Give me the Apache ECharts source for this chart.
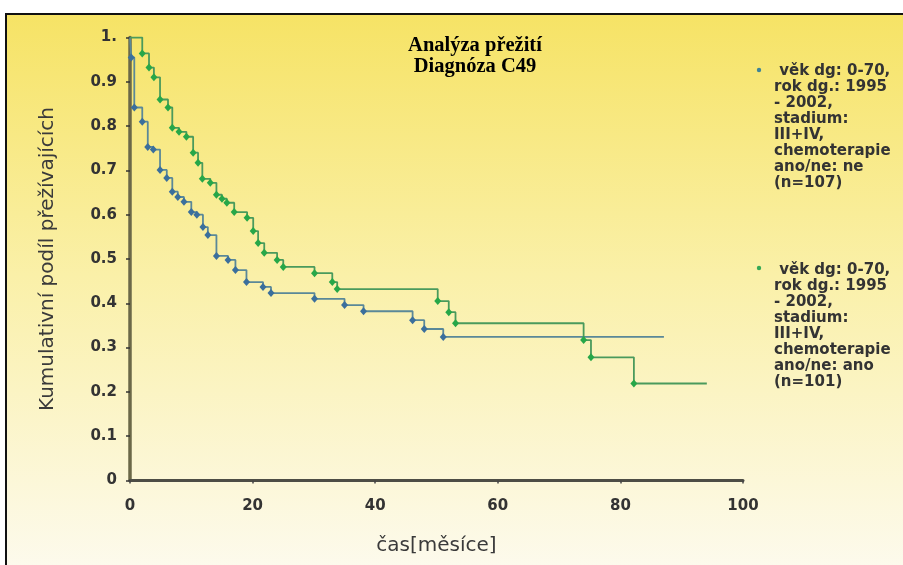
<!DOCTYPE html>
<html>
<head>
<meta charset="utf-8">
<script src="https://cdn.jsdelivr.net/npm/echarts@6/dist/echarts.min.js"></script>
<style>html,body{margin:0;padding:0;background:#fff}#c{width:903px;height:565px}</style>
</head>
<body>
<div id="c"></div>
<script>
// ---- data ----
const titleText = 'Analýza přežití\nDiagnóza C49';
const xAxisName = 'čas[měsíce]';
const yAxisName = 'Kumulativní podíl přežívajících';
const xTickLabels = ['0', '20', '40', '60', '80', '100'];
const yTickLabels = ['0', '0.1', '0.2', '0.3', '0.4', '0.5', '0.6', '0.7', '0.8', '0.9', '1.'];

const seriesNames = [
  'věk dg: 0-70,\nrok dg.: 1995\n- 2002,\nstadium:\nIII+IV,\nchemoterapie\nano/ne: ne\n(n=107)',
  'věk dg: 0-70,\nrok dg.: 1995\n- 2002,\nstadium:\nIII+IV,\nchemoterapie\nano/ne: ano\n(n=101)'
];

// blue: chemoterapie ne (n=107)
const blueT = [0, 0.2, 0.7, 2.0, 2.9, 3.8, 4.9, 6.0, 6.9, 7.8, 8.8, 10.0, 10.9, 11.9, 12.7, 14.1, 16.0, 17.2, 19.0, 21.7, 23.0, 30.1, 35.0, 38.1, 46.1, 48.0, 51.1, 87.1];
const blueS = [1.0, 0.955, 0.842, 0.81, 0.753, 0.747, 0.701, 0.683, 0.652, 0.640, 0.629, 0.606, 0.600, 0.572, 0.554, 0.507, 0.498, 0.475, 0.448, 0.437, 0.423, 0.410, 0.396, 0.382, 0.362, 0.342, 0.324, 0.324];

// green: chemoterapie ano (n=101)
const greenT = [0, 2.0, 3.1, 3.9, 4.9, 6.2, 6.9, 8.0, 9.2, 10.3, 11.1, 11.8, 13.1, 14.1, 15.0, 15.8, 17.0, 19.1, 20.1, 20.9, 21.9, 24.0, 25.0, 30.1, 33.0, 33.8, 50.2, 52.0, 53.1, 74.0, 75.2, 82.2, 94.1];
const greenS = [1.0, 0.964, 0.932, 0.910, 0.860, 0.842, 0.796, 0.787, 0.776, 0.740, 0.717, 0.681, 0.672, 0.645, 0.636, 0.627, 0.606, 0.593, 0.563, 0.536, 0.514, 0.498, 0.482, 0.468, 0.448, 0.432, 0.405, 0.380, 0.355, 0.317, 0.278, 0.219, 0.219];

// ---- build ----
function build(ts, ss) {
  return ts.map((t, i) => {
    const item = { value: [t, ss[i]] };
    if (i === 0 || i === ts.length - 1) item.symbol = 'none';
    return item;
  });
}

const chart = echarts.init(document.getElementById('c'), null, { renderer: 'canvas' });

const legendFont = { fontFamily: 'DejaVu Sans', fontWeight: 'bold', fontSize: 15, lineHeight: 16, fill: '#333' };

chart.setOption({
  animation: false,
  backgroundColor: '#ffffff',
  title: {
    text: titleText,
    left: 475,
    top: 35,
    padding: 0,
    textAlign: 'center',
    textStyle: {
      fontFamily: 'Liberation Serif',
      fontWeight: 'bold',
      fontSize: 20.5,
      lineHeight: 21,
      color: '#000'
    }
  },
  graphic: [
    {
      type: 'rect', z: -100, silent: true,
      shape: { x: 6, y: 14, width: 920, height: 580 },
      style: {
        fill: new echarts.graphic.LinearGradient(0, 0, 0, 1, [
          { offset: 0, color: '#F6E365' },
          { offset: 0.45, color: '#FAF0A8' },
          { offset: 1, color: '#FDFBF3' }
        ]),
        stroke: '#111', lineWidth: 2
      }
    },
    { type: 'circle', shape: { cx: 759, cy: 70, r: 2.2 }, style: { fill: '#3f8497' } },
    { type: 'text', x: 774, y: 63, style: Object.assign({ text: ' ' + seriesNames[0] }, legendFont) },
    { type: 'circle', shape: { cx: 759, cy: 268, r: 2.2 }, style: { fill: '#35a855' } },
    { type: 'text', x: 774, y: 262, style: Object.assign({ text: ' ' + seriesNames[1] }, legendFont) }
  ],
  grid: { left: 130, right: 160, top: 37.5, bottom: 84.5, containLabel: false },
  xAxis: {
    type: 'value', min: 0, max: 100, interval: 20,
    name: xAxisName, nameLocation: 'middle', nameGap: 55,
    nameTextStyle: { fontFamily: 'DejaVu Sans', fontSize: 20, color: '#3a3a3a' },
    axisLine: { show: true, lineStyle: { color: '#4d4d45', width: 3 } },
    axisTick: { show: true, length: 3, lineStyle: { color: '#444', width: 1.5 } },
    splitLine: { show: false },
    axisLabel: {
      margin: 18, fontFamily: 'DejaVu Sans', fontWeight: 'bold', fontSize: 15, color: '#333',
      formatter: (v) => xTickLabels[Math.round(v / 20)]
    }
  },
  yAxis: {
    type: 'value', min: 0, max: 1, interval: 0.1,
    name: yAxisName, nameLocation: 'middle', nameGap: 72, nameRotate: 90,
    nameTextStyle: { fontFamily: 'DejaVu Sans', fontSize: 20, color: '#3a3a3a' },
    axisLine: { show: true, lineStyle: { color: '#6b6848', width: 3.5 } },
    axisTick: { show: true, length: 4, lineStyle: { color: '#333', width: 1.5 } },
    splitLine: { show: false },
    axisLabel: {
      margin: 13, fontFamily: 'DejaVu Sans', fontWeight: 'bold', fontSize: 15, color: '#333',
      formatter: (v) => yTickLabels[Math.round(v * 10)]
    }
  },
  series: [
    {
      name: seriesNames[0], type: 'line', step: 'end',
      data: build(blueT, blueS),
      symbol: 'diamond', symbolSize: [7, 8], showAllSymbol: true,
      lineStyle: { color: '#5a8898', width: 1.8 },
      itemStyle: { color: '#3b6f9c' },
      z: 3
    },
    {
      name: seriesNames[1], type: 'line', step: 'end',
      data: build(greenT, greenS),
      symbol: 'diamond', symbolSize: [7, 8], showAllSymbol: true,
      lineStyle: { color: '#4a9a5c', width: 1.8 },
      itemStyle: { color: '#27a748' },
      z: 4
    }
  ]
});
</script>
</body>
</html>
